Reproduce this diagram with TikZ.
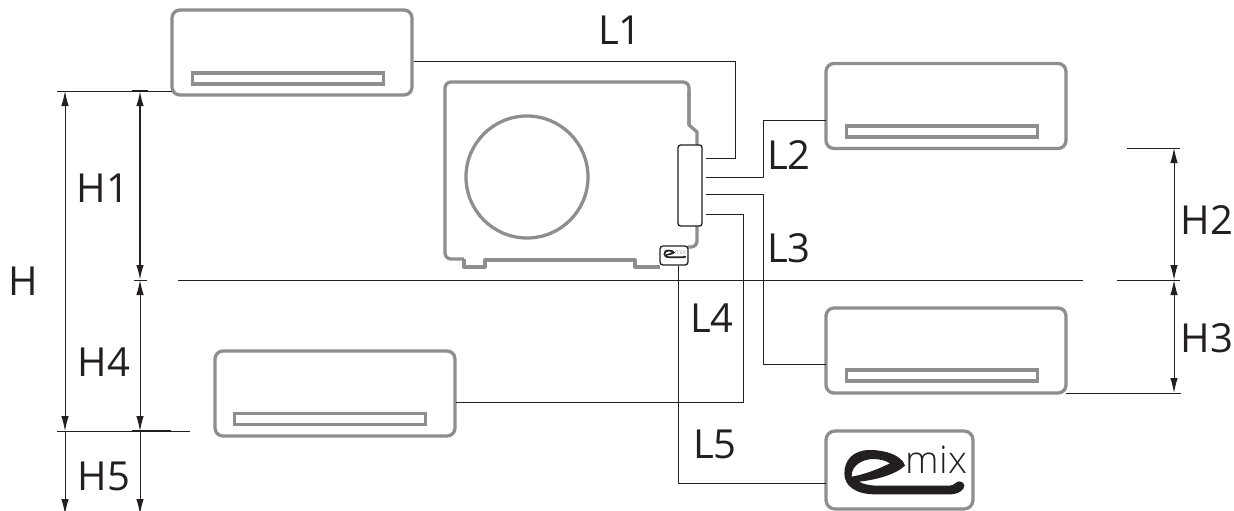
\documentclass[tikz,border=0pt]{standalone}
\usepackage{fontspec}
\setmainfont{Open Sans}
\newfontfamily\mixfont{Open Sans Light}
\usetikzlibrary{arrows.meta}
\definecolor{unitgrey}{HTML}{8E8E90}
\definecolor{inkdark}{HTML}{231F20}
\tikzset{
  unit/.style={draw=unitgrey,line width=3.3pt,rounded corners=8pt,inner sep=0pt,minimum width=240pt,minimum height=85pt},
  strip/.style={draw=unitgrey,line width=3.3pt,inner sep=0pt,minimum width=191pt,minimum height=11pt},
  wire/.style={draw=inkdark,line width=1pt},
  measure/.style={draw=inkdark,line width=1pt},
  dim/.style={draw=inkdark,line width=1pt,{Latex[length=15pt,width=7.5pt]}-{Latex[length=15pt,width=7.5pt]}},
  dimdown/.style={draw=inkdark,line width=1pt,-{Latex[length=15pt,width=7.5pt]}},
  lab/.style={font=\fontsize{40}{40}\selectfont,text=inkdark,inner sep=0pt}
}
\newcommand{\emixswoosh}{%
  \begin{scope}[shift={(9,14)},scale=0.3333]
  \fill[inkdark,even odd rule]
    (210,62) .. controls (200,30) and (150,15) .. (105,15)
    .. controls (55,15) and (28,45) .. (28,85)
    .. controls (28,125) and (65,148) .. (120,148)
    -- (345,148)
    .. controls (370,148) and (388,135) .. (388,122)
    .. controls (388,112) and (372,105) .. (365,112)
    .. controls (358,120) and (350,122) .. (335,122)
    -- (130,122)
    .. controls (105,122) and (85,118) .. (72,110)
    .. controls (120,105) and (180,90) .. (210,62) -- cycle
    (50,95) .. controls (48,60) and (85,42) .. (115,42)
    .. controls (135,42) and (155,48) .. (165,55)
    .. controls (130,72) and (90,88) .. (50,95) -- cycle;
  \end{scope}
}
\begin{document}
\begin{tikzpicture}[x=1pt,y=-1pt]
\useasboundingbox (0,0) rectangle (1234,511);
% indoor units
\node[unit] (u1) at (292,52.5) {};
\node[strip] (s1) at (288,78.5) {};
\node[unit] (u2) at (946,106) {};
\node[strip] (s2) at (942,131.5) {};
\node[unit] (u3) at (946,350.5) {};
\node[strip] (s3) at (942,375.5) {};
\node[unit] (u4) at (335,393.5) {};
\node[strip] (s4) at (330,419) {};
% outdoor unit
\draw[draw=unitgrey,line width=3.3pt,line join=round,rounded corners=6pt]
  (697,226) -- (697,247) -- (688,247);
\draw[draw=unitgrey,line width=3.3pt,line join=round]
  (697,145) -- (697,132) -- (689,125) -- (689,90);
\draw[draw=unitgrey,line width=3.3pt,line join=round,rounded corners=6pt]
  (689,125) -- (689,82) -- (445,82) -- (445,259) -- (464,259);
\draw[draw=unitgrey,line width=3.3pt,line join=round]
  (464,259) -- (464,267) -- (485,267) -- (485,260) -- (635,260) -- (635,267) -- (660,267);
\node[draw=unitgrey,line width=3.3pt,circle,minimum size=122pt,inner sep=0pt] (fan) at (527,177) {};
\node[draw=inkdark,line width=1.3pt,fill=white,rounded corners=2.5pt,minimum width=24pt,minimum height=81pt,inner sep=0pt] (panel) at (690,185.5) {};
\node[draw=inkdark,line width=1.3pt,fill=white,rounded corners=3pt,minimum width=28pt,minimum height=19pt,inner sep=0pt] (smallbox) at (674,255.5) {};
\begin{scope}[shift={(660,246)},scale=0.19]
\emixswoosh
\end{scope}
\node[font=\mixfont\fontsize{7}{7}\selectfont,text=unitgrey,inner sep=0pt,anchor=base] (smallmix) at (680.5,254.5) {mix};
% emix box
\node[draw=unitgrey,line width=3.3pt,rounded corners=9pt,minimum width=147pt,minimum height=78pt,inner sep=0pt] (emixbox) at (899.5,470) {};
\begin{scope}[shift={(826,431)}]
\emixswoosh
\end{scope}
\node[font=\mixfont\fontsize{38}{38}\selectfont,text=inkdark,inner sep=0pt,anchor=base] (bigmix) at (936.5,473) {mix};
% wires
\coordinate (a1) at (706,158);
\coordinate (a2) at (706,177);
\coordinate (a3) at (706,194);
\coordinate (a4) at (706,214);
\coordinate (b1) at (414,62);
\coordinate (b2) at (826,120);
\coordinate (b3) at (826,364);
\coordinate (b4) at (456,402);
\coordinate (b5) at (826,483);
\path[wire] (a1) -- ++(29,0) |- (b1);
\path[wire] (a2) -- ++(57,0) |- (b2);
\path[wire] (a3) -- ++(57,0) |- (b3);
\path[wire] (a4) -- ++(37,0) |- (b4);
\path[wire] (smallbox.south) ++(4,0) |- (b5);
% reference lines
\coordinate (g1) at (178,280); \coordinate (g2) at (1083,280);
\coordinate (g3) at (1117,280); \coordinate (g4) at (1180,280);
\coordinate (t1) at (57,91); \coordinate (t2) at (172,91);
\coordinate (m1) at (57,431); \coordinate (m2) at (190,431);
\coordinate (r1) at (1127,148); \coordinate (r2) at (1180,148);
\coordinate (q1) at (1066,393); \coordinate (q2) at (1181,393);
\path[measure] (g1) -- (g2);
\path[measure] (g3) -- (g4);
\path[measure] (t1) -- (t2);
\path[measure] (m1) -- (m2);
\path[measure] (r1) -- (r2);
\path[measure] (q1) -- (q2);
\path[measure,line width=1.6pt] (132,91) -- (148,91);
\path[measure,line width=1.6pt] (132,431) -- (171,431);
\path[measure] (134,280) -- (147,280);
% dimension arrows
\path[dim] (65,91) -- (65,431);
\path[dim,line width=1.6pt] (140,91) -- (140,280);
\path[dim] (140,280) -- (140,431);
\path[dim] (1174,148) -- (1174,280);
\path[dim] (1174,280) -- (1174,393);
\path[dimdown] (65,431) -- (65,514);
\path[dimdown] (140,431) -- (140,514);
% labels
\node[lab] (L1) at (620,30) {L1};
\node[lab] (L2) at (789,155) {L2};
\node[lab] (L3) at (789,248) {L3};
\node[lab] (L4) at (712,318) {L4};
\node[lab] (L5) at (715,444) {L5};
\node[lab] (H) at (23,281) {H};
\node[lab] (H1) at (103,188) {H1};
\node[lab] (H2) at (1207,220) {H2};
\node[lab] (H3) at (1207,338) {H3};
\node[lab] (H4) at (104,362) {H4};
\node[lab] (H5) at (104,476) {H5};
\end{tikzpicture}
\end{document}
